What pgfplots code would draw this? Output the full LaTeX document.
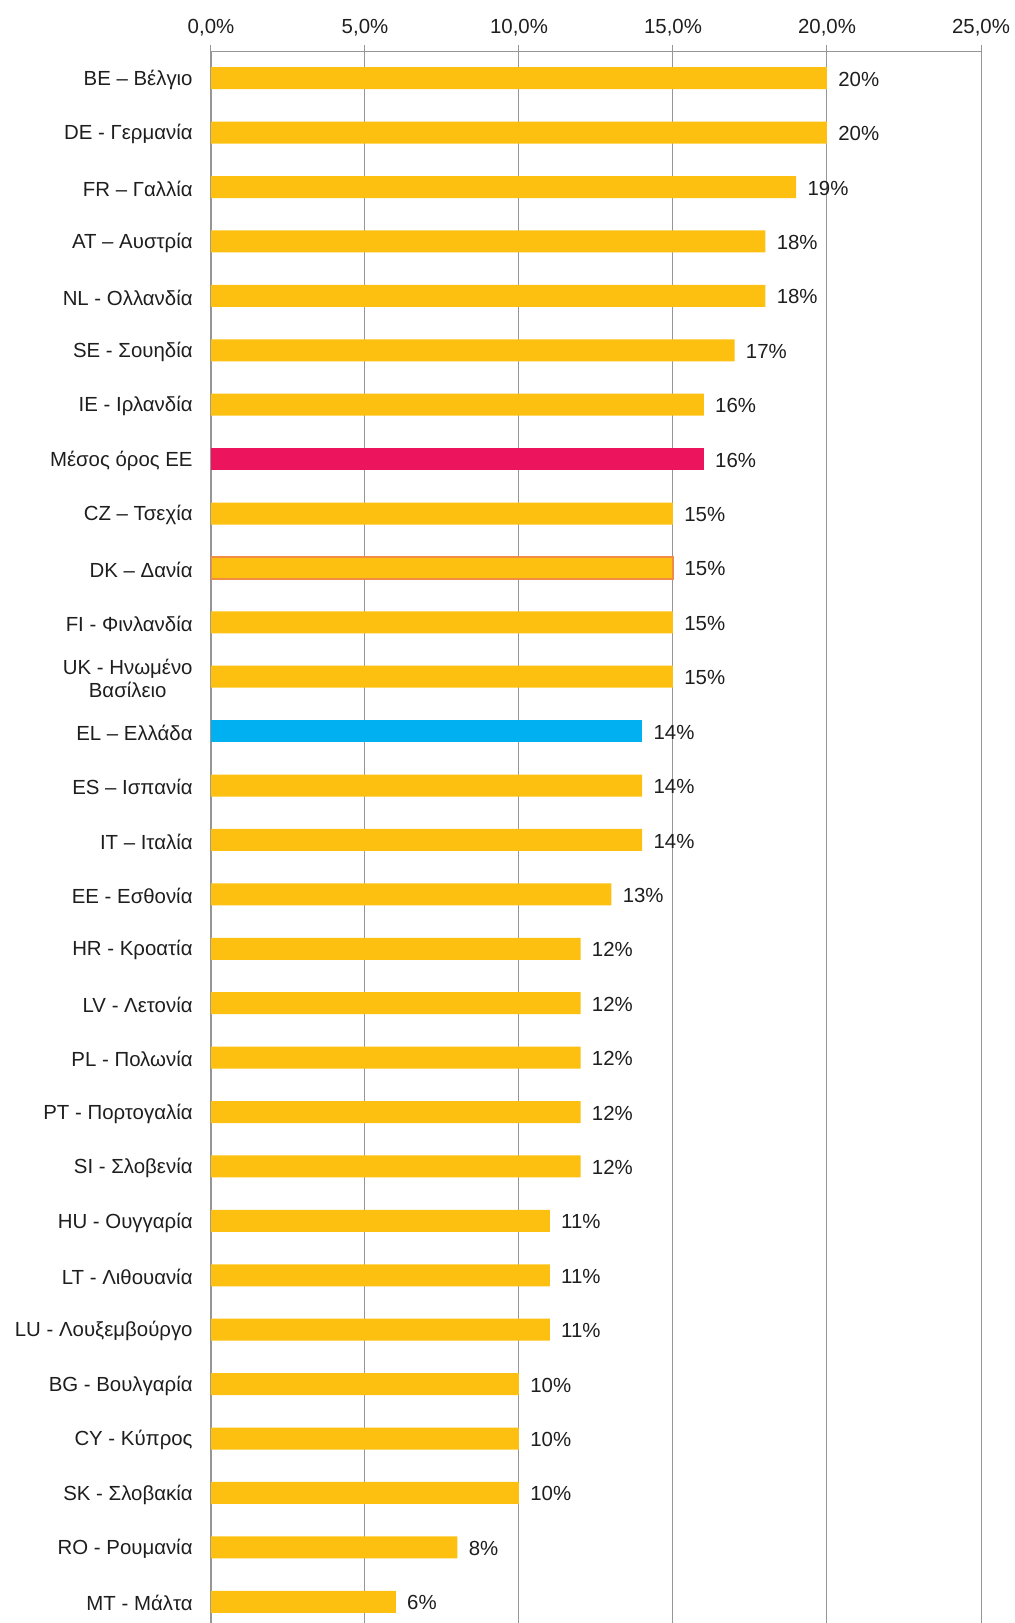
\documentclass[border=0pt]{standalone}
\usepackage{pgfplots}
\pgfplotsset{compat=1.18}
\usepackage{fontspec}
\setmainfont{Liberation Sans}
\definecolor{barorange}{RGB}{253,192,17}
\definecolor{barred}{RGB}{237,20,94}
\definecolor{barblue}{RGB}{0,176,240}
\definecolor{gridgray}{RGB}{150,150,150}
\definecolor{txt}{RGB}{30,30,30}
\newcommand{\lblfont}{\fontsize{10.2}{11.6}\selectfont}
\begin{document}
\lblfont
\begin{tikzpicture}
\useasboundingbox (-105.5pt,0pt) rectangle (401.5pt,811.5pt);
\begin{axis}[
  at={(0pt,0pt)}, anchor=south west,
  scale only axis,
  width=385pt, height=786pt,
  xmin=0, xmax=25,
  ymin=-0.39, ymax=28.5,
  xbar, bar width=11pt, bar shift=0pt,
  axis x line=top,
  axis y line=left,
  axis line style={gridgray, -},
  xtick={0,5,10,15,20,25},
  xticklabels={{0,0\%},{5,0\%},{10,0\%},{15,0\%},{20,0\%},{25,0\%}},
  xmajorgrids, major grid style={gridgray, line width=0.5pt},
  x tick style={gridgray, line width=0.5pt},
  major tick length=3pt,
  xtick align=outside,
  ytick={0,...,28},
  yticklabels={
    {MT - Μάλτα},{RO - Ρουμανία},{SK - Σλοβακία},{CY - Κύπρος},{BG - Βουλγαρία},
    {LU - Λουξεμβούργο},{LT - Λιθουανία},{HU - Ουγγαρία},{SI - Σλοβενία},{PT - Πορτογαλία},
    {PL - Πολωνία},{LV - Λετονία},{HR - Κροατία},{EE - Εσθονία},{IT – Ιταλία},
    {ES – Ισπανία},{EL – Ελλάδα},{UK - Ηνωμένο\\Βασίλειο},{FI - Φινλανδία},{DK – Δανία},
    {CZ – Τσεχία},{Μέσος όρος ΕΕ},{IE - Ιρλανδία},{SE - Σουηδία},{NL - Ολλανδία},
    {AT – Αυστρία},{FR – Γαλλία},{DE - Γερμανία},{BE – Βέλγιο}},
  y tick style={draw=none},
  yticklabel style={align=center, anchor=east, inner sep=0pt, xshift=-7.5pt, yshift=-0.8pt, text=txt, font=\lblfont},
  xticklabel style={text=txt, inner sep=0pt, yshift=4pt, font=\lblfont},
  point meta=x,
  nodes near coords={\pgfmathprintnumber[assume math mode=true,fixed,precision=0]{\pgfplotspointmeta}\%},
  nodes near coords style={anchor=west, inner sep=0pt, xshift=5.5pt, yshift=-0.5pt, text=txt, font=\lblfont},
]
\addplot[fill=barorange, draw=none] coordinates {
 (20,28) (20,27) (19,26) (18,25) (18,24) (17,23) (16,22)
 (15,20) (15,18) (15,17) (14,15) (14,14) (13,13)
 (12,12) (12,11) (12,10) (12,9) (12,8) (11,7) (11,6) (11,5)
 (10,4) (10,3) (10,2) (8,1) (6,0)
};
\addplot[fill=barorange, draw={rgb,255:red,240;green,140;blue,70}, line width=0.6pt] coordinates {(15,19)};
\addplot[fill=barred, draw=none] coordinates {(16,21)};
\addplot[fill=barblue, draw=none] coordinates {(14,16)};
\end{axis}
\end{tikzpicture}
\end{document}
